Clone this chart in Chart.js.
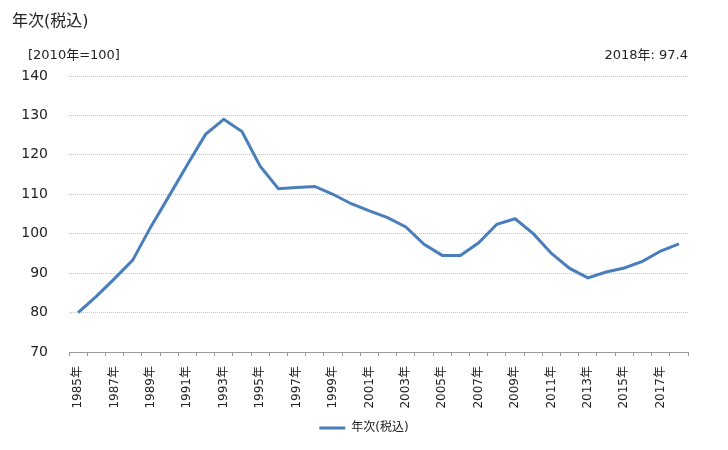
<!DOCTYPE html>
<html>
<head>
<meta charset="utf-8">
<script src="https://cdn.jsdelivr.net/npm/chart.js@4/dist/chart.umd.min.js"></script>
<style>
  html, body { margin: 0; padding: 0; background: #fff; }
  #wrap { width: 728px; height: 450px; position: relative; }
</style>
</head>
<body>
<div id="wrap"><canvas id="c" width="728" height="450"></canvas></div>
<script>
const years = [1985,1986,1987,1988,1989,1990,1991,1992,1993,1994,1995,1996,1997,1998,1999,2000,2001,2002,2003,2004,2005,2006,2007,2008,2009,2010,2011,2012,2013,2014,2015,2016,2017,2018];
const categories = years.map(y => y + '年');
const seriesName = '年次(税込)';
const values = [80.0,84.1,88.6,93.3,101.8,109.6,117.5,125.2,129.0,125.9,117.1,111.4,111.7,112.0,110.0,107.6,105.8,104.1,101.7,97.3,94.5,94.5,97.7,102.4,103.8,100.0,95.0,91.2,88.8,90.3,91.3,93.0,95.6,97.4];
const yTicks = [70,80,90,100,110,120,130,140];
const chartTitle = '年次(税込)';
const unitLabel = '[2010年=100]';

const FONT = "'DejaVu Sans', 'Noto Sans CJK JP', sans-serif";

const textPlugin = {
  id: 'texts',
  afterDraw(chart) {
    const ctx = chart.ctx;
    const area = chart.chartArea;
    ctx.save();
    ctx.fillStyle = '#222';
    ctx.textBaseline = 'middle';
    ctx.font = "16px " + FONT;
    ctx.textAlign = 'left';
    ctx.fillText(chartTitle, 12, 22);
    ctx.font = "13px " + FONT;
    ctx.fillText(unitLabel, 28, 56);
    ctx.textAlign = 'right';
    const last = values.length - 1;
    ctx.fillText(years[last] + '年: ' + values[last].toFixed(1), area.right, 56);
    ctx.restore();
  }
};

new Chart(document.getElementById('c'), {
  type: 'line',
  data: {
    labels: categories,
    datasets: [{
      label: seriesName,
      data: values,
      borderColor: '#4a7ebb',
      backgroundColor: '#4a7ebb',
      borderWidth: 3,
      pointRadius: 0,
      tension: 0,
      fill: false
    }]
  },
  options: {
    responsive: false,
    animation: false,
    devicePixelRatio: 1,
    layout: { padding: { left: 0, right: 0, top: 76, bottom: 6 } },
    plugins: {
      title: { display: false },
      tooltip: { enabled: false },
      legend: {
        display: true,
        position: 'bottom',
        labels: {
          usePointStyle: true,
          pointStyle: 'line',
          pointStyleWidth: 26,
          padding: 10,
          color: '#222',
          font: { family: FONT, size: 12 }
        }
      }
    },
    scales: {
      x: {
        type: 'category',
        offset: true,
        grid: {
          display: true,
          offset: true,
          drawOnChartArea: false,
          drawTicks: true,
          tickLength: 4,
          color: '#999'
        },
        border: { display: true, color: '#999', width: 1 },
        ticks: {
          autoSkip: false,
          minRotation: 90,
          maxRotation: 90,
          padding: 10,
          color: '#222',
          font: { family: FONT, size: 12 },
          callback: function(v, i) { return i % 2 === 0 ? categories[i] : ''; }
        },
        afterFit(scale) { scale.height = 60; }
      },
      y: {
        min: 70,
        max: 140,
        afterBuildTicks(scale) { scale.ticks = yTicks.map(v => ({ value: v })); },
        grid: {
          display: true,
          drawTicks: false,
          color: '#c4c4c4',
          lineWidth: 1
        },
        border: { display: false, dash: [1, 1] },
        ticks: {
          padding: 21,
          color: '#222',
          font: { family: FONT, size: 14 }
        },
        afterFit(scale) { scale.width = 69; }
      },
      yRight: {
        position: 'right',
        display: true,
        min: 70,
        max: 140,
        grid: { display: false, drawTicks: false },
        border: { display: false },
        ticks: { display: false },
        afterFit(scale) { scale.width = 40; }
      }
    }
  },
  plugins: [textPlugin]
});
</script>
</body>
</html>
